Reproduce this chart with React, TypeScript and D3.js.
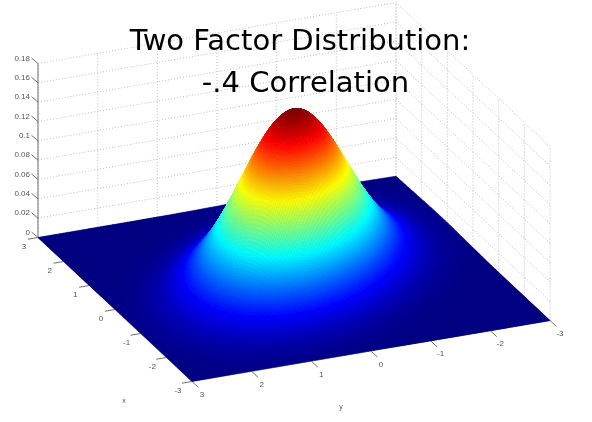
import React, { useMemo } from "react";
import * as d3 from "d3";

const W = 592;
const H = 422;

const titleLines = ["Two Factor Distribution:", "-.4 Correlation"];
const axisTicks = [-3, -2, -1, 0, 1, 2, 3];
const zTicks = [0, 0.02, 0.04, 0.06, 0.08, 0.1, 0.12, 0.14, 0.16, 0.18];
const gridStep = 0.25;

// Density, in units of 1e-4. Rows: x = -3..3, columns: y = -3..3, step 0.25.
const densityRows = [
  [0,0,0,0,0,0,0,1,1,2,3,6,8,11,14,17,19,19,18,16,13,10,7,5,3],
  [0,0,0,0,0,0,1,1,3,5,9,13,19,26,32,37,39,39,36,31,24,18,12,8,5],
  [0,0,0,0,0,1,2,4,7,12,20,30,42,55,66,74,76,74,66,55,42,30,20,12,7],
  [0,0,0,0,1,2,4,9,16,27,43,63,85,107,126,136,137,128,112,90,67,47,30,18,10],
  [0,0,0,1,2,5,10,19,34,56,86,122,161,196,223,235,230,208,176,137,100,67,42,24,13],
  [0,0,1,2,5,11,21,39,67,107,159,220,281,333,367,375,356,314,257,195,137,90,55,31,16],
  [0,1,2,4,10,21,41,74,123,191,274,367,455,524,561,556,513,439,348,257,176,112,66,36,18],
  [1,1,4,9,19,39,74,128,208,314,439,569,685,766,795,766,685,569,439,314,208,128,74,39,19],
  [1,3,7,16,34,67,123,208,328,480,651,819,958,1040,1047,979,850,685,513,356,230,137,76,39,19],
  [2,5,12,27,56,107,191,314,480,680,896,1095,1243,1309,1280,1162,979,766,556,375,235,136,74,37,17],
  [3,9,20,43,86,159,274,439,651,896,1145,1359,1497,1531,1453,1280,1047,795,561,367,223,126,66,32,14],
  [6,13,30,63,122,220,367,569,819,1095,1359,1565,1674,1661,1531,1309,1040,766,524,333,196,107,55,26,11],
  [8,19,42,85,161,281,455,685,958,1243,1497,1674,1737,1674,1497,1243,958,685,455,281,161,85,42,19,8],
  [11,26,55,107,196,333,524,766,1040,1309,1531,1661,1674,1565,1359,1095,819,569,367,220,122,63,30,13,6],
  [14,32,66,126,223,367,561,795,1047,1280,1453,1531,1497,1359,1145,896,651,439,274,159,86,43,20,9,3],
  [17,37,74,136,235,375,556,766,979,1162,1280,1309,1243,1095,896,680,480,314,191,107,56,27,12,5,2],
  [19,39,76,137,230,356,513,685,850,979,1047,1040,958,819,651,480,328,208,123,67,34,16,7,3,1],
  [19,39,74,128,208,314,439,569,685,766,795,766,685,569,439,314,208,128,74,39,19,9,4,1,1],
  [18,36,66,112,176,257,348,439,513,556,561,524,455,367,274,191,123,74,41,21,10,4,2,1,0],
  [16,31,55,90,137,195,257,314,356,375,367,333,281,220,159,107,67,39,21,11,5,2,1,0,0],
  [13,24,42,67,100,137,176,208,230,235,223,196,161,122,86,56,34,19,10,5,2,1,0,0,0],
  [10,18,30,47,67,90,112,128,137,136,126,107,85,63,43,27,16,9,4,2,1,0,0,0,0],
  [7,12,20,30,42,55,66,74,76,74,66,55,42,30,20,12,7,4,2,1,0,0,0,0,0],
  [5,8,12,18,24,31,36,39,39,37,32,26,19,13,9,5,3,1,1,0,0,0,0,0,0],
  [3,5,7,10,13,16,18,19,19,17,14,11,8,6,3,2,1,1,0,0,0,0,0,0,0],
];

// Oblique projection: each data axis contributes a screen offset.
const xToPxX = d3.scaleLinear().domain([-3, 3]).range([77, -77]);
const xToPxY = d3.scaleLinear().domain([-3, 3]).range([72, -72]);
const yToPxX = d3.scaleLinear().domain([-3, 3]).range([179, -179]);
const yToPxY = d3.scaleLinear().domain([-3, 3]).range([-30.5, 30.5]);
const zToPx = d3.scaleLinear().domain([0, 0.18]).range([0, -174]);
const CX = 294;
const CY = 279;

const project = (x: number, y: number, z: number): [number, number] => [
  CX + xToPxX(x) + yToPxX(y),
  CY + xToPxY(x) + yToPxY(y) + zToPx(z),
];

const zMax = d3.max(densityRows.flat())! / 1e4;
const jet = d3
  .scaleLinear<string>()
  .domain([0, 0.125, 0.375, 0.625, 0.875, 1].map((t) => t * zMax))
  .range(["#000080", "#0000ff", "#00ffff", "#ffff00", "#ff0000", "#800000"])
  .clamp(true);

const zAt = (i: number, j: number) => {
  const n = densityRows.length - 1;
  const a = Math.max(0, Math.min(n, i));
  const b = Math.max(0, Math.min(n, j));
  return densityRows[a][b] / 1e4;
};
const cr = (p0: number, p1: number, p2: number, p3: number, t: number) =>
  0.5 * (2 * p1 + (p2 - p0) * t + (2 * p0 - 5 * p1 + 4 * p2 - p3) * t * t + (3 * p1 - p0 - 3 * p2 + p3) * t * t * t);
// Shading-level smoothing inside a cell of the table.
const smooth = (i: number, j: number, s: number, t: number) => {
  const col = [-1, 0, 1, 2].map((di) =>
    cr(zAt(i + di, j - 1), zAt(i + di, j), zAt(i + di, j + 1), zAt(i + di, j + 2), t)
  );
  return Math.max(0, cr(col[0], col[1], col[2], col[3], s));
};

function buildSurface() {
  const out: { d: string; c: string }[] = [];
  const n = densityRows.length - 1;
  // far to near: x descending, y ascending
  for (let i = n - 1; i >= 0; i--) {
    for (let j = 0; j < n; j++) {
      const top = Math.max(zAt(i, j), zAt(i + 1, j), zAt(i, j + 1), zAt(i + 1, j + 1));
      const SUB = top > 0.006 ? 10 : top > 0.001 ? 4 : 2;
      for (let si = SUB - 1; si >= 0; si--) {
        for (let tj = 0; tj < SUB; tj++) {
          const s0 = si / SUB, s1 = (si + 1) / SUB, t0 = tj / SUB, t1 = (tj + 1) / SUB;
          const pt = (s: number, t: number) => {
            const x = -3 + (i + s) * gridStep;
            const y = -3 + (j + t) * gridStep;
            const z = smooth(i, j, s, t);
            return { p: project(x, y, z), z };
          };
          const a = pt(s0, t0), b = pt(s1, t0), c = pt(s1, t1), e = pt(s0, t1);
          const path = d3.path();
          path.moveTo(a.p[0], a.p[1]);
          path.lineTo(b.p[0], b.p[1]);
          path.lineTo(c.p[0], c.p[1]);
          path.lineTo(e.p[0], e.p[1]);
          path.closePath();
          out.push({ d: path.toString(), c: jet((a.z + b.z + c.z + e.z) / 4) });
        }
      }
    }
  }
  return out;
}

const line = (a: [number, number], b: [number, number]) => ({ x1: a[0], y1: a[1], x2: b[0], y2: b[1] });
const GRID = { stroke: "#bdbdbd", strokeWidth: 1, strokeDasharray: "1 2", fill: "none" };
const AXIS = { stroke: "#707070", strokeWidth: 1 };
const LABEL = { fontFamily: "Liberation Sans, Arial, sans-serif", fontSize: 8, fill: "#555" };

export default function App() {
  const cells = useMemo(buildSurface, []);
  const floor = [project(3, 3, 0), project(-3, 3, 0), project(-3, -3, 0), project(3, -3, 0)]
    .map((p) => p.join(","))
    .join(" ");
  return (
    <svg width={W} height={H} viewBox={`0 0 ${W} ${H}`} style={{ position: "absolute", left: 0, top: 0, background: "#fff" }}>
      <defs>
        <filter id="soft" x="-5%" y="-5%" width="110%" height="110%">
          <feGaussianBlur stdDeviation="0.4" />
        </filter>
        <filter id="softer" x="-5%" y="-5%" width="110%" height="110%">
          <feGaussianBlur stdDeviation="0.6" />
        </filter>
      </defs>
      <g filter="url(#soft)">
        {zTicks.map((z) => (
          <g key={z} {...GRID}>
            <line {...line(project(3, 3, z), project(3, -3, z))} />
            <line {...line(project(3, -3, z), project(-3, -3, z))} />
          </g>
        ))}
        {axisTicks.map((y) => (
          <line key={"wy" + y} {...GRID} {...line(project(3, y, 0), project(3, y, 0.18))} />
        ))}
        {axisTicks.map((x) => (
          <line key={"wx" + x} {...GRID} {...line(project(x, -3, 0), project(x, -3, 0.18))} />
        ))}
        <line {...AXIS} {...line(project(3, 3, 0), project(3, 3, 0.18))} />
        <line {...AXIS} {...line(project(3, 3, 0), project(-3, 3, 0))} />
        <line {...AXIS} {...line(project(-3, 3, 0), project(-3, -3, 0))} />
        {zTicks.map((z) => {
          const p = project(3, 3, z);
          return (
            <g key={"zt" + z}>
              <line {...AXIS} x1={p[0]} y1={p[1]} x2={p[0] - 6.5} y2={p[1] - 5.5} />
              <text {...LABEL} x={30} y={p[1] - 3} textAnchor="end">{z === 0 ? "0" : String(z)}</text>
            </g>
          );
        })}
        {axisTicks.map((x) => {
          const p = project(x, 3, 0);
          const q = project(x, 3.17, 0);
          return (
            <g key={"xt" + x}>
              <line {...AXIS} x1={p[0]} y1={p[1]} x2={q[0]} y2={q[1]} />
              <text {...LABEL} x={p[0] - 14} y={p[1] + 11} textAnchor="middle">{x}</text>
            </g>
          );
        })}
        {axisTicks.map((y) => {
          const p = project(-3, y, 0);
          const q = project(-3.25, y, 0);
          return (
            <g key={"yt" + y}>
              <line {...AXIS} x1={p[0]} y1={p[1]} x2={q[0]} y2={q[1]} />
              <text {...LABEL} x={p[0] + 10} y={p[1] + 15.5} textAnchor="middle">{y}</text>
            </g>
          );
        })}
        <text {...LABEL} x={124} y={403} fontSize={7} textAnchor="middle">x</text>
        <text {...LABEL} x={341} y={409} fontSize={7} textAnchor="middle">y</text>
      </g>
      <g filter="url(#softer)">
        <polygon points={floor} fill="#000080" />
        {cells.map((c, i) => (
          <path key={i} d={c.d} fill={c.c} stroke={c.c} strokeWidth={0.6} strokeLinejoin="round" />
        ))}
      </g>
      <g fontFamily="DejaVu Sans" fontSize={29} fill="#000" textAnchor="middle" filter="url(#soft)">
        <text x={300} y={50}>{titleLines[0]}</text>
        <text x={305.5} y={92}>{titleLines[1]}</text>
      </g>
    </svg>
  );
}
